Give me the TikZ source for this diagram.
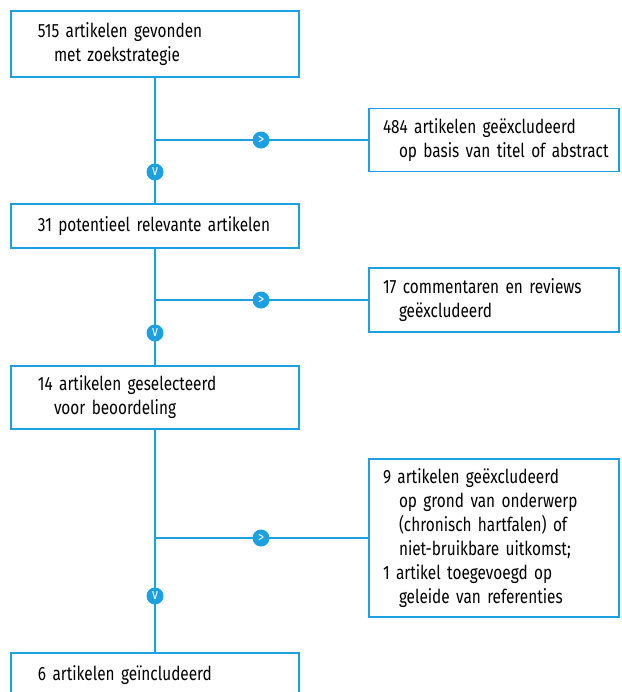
\documentclass[tikz,border=0pt]{standalone}
\usepackage{fontspec}
\setmainfont{Fira Sans}[FakeStretch=0.8]
\usetikzlibrary{positioning}
\definecolor{flowblue}{RGB}{28,160,226}
\tikzset{
  mainbox/.style={draw=flowblue, line width=0.7pt, inner xsep=13.5pt, text width=117pt, inner ysep=0pt, align=left},
  sidebox/.style={draw=flowblue, line width=0.7pt, inner xsep=7pt, text width=111pt, inner ysep=0pt, align=left},
  flowline/.style={draw=flowblue, line width=0.7pt},
  marker/.style={circle, fill=flowblue, inner sep=0pt, minimum size=8.5pt, text=white, font=\fontsize{7.5}{7.5}\selectfont}
}

\begin{document}
\begin{tikzpicture}[x=0.5pt, y=-0.5pt, font=\fontsize{9.6}{12}\selectfont]
    \clip (0,0) rectangle (622,692);

    % Main column
    \node[mainbox, minimum height=33pt] (found) at (155,44) {515 artikelen gevonden\\\hspace*{8pt}met zoekstrategie};
    \node[mainbox, minimum height=22pt] (potential) at (155,226) {\mbox{31 potentieel relevante artikelen}};
    \node[mainbox, minimum height=31.5pt] (selected) at (155,397.5) {14 artikelen geselecteerd\\\hspace*{8pt}voor beoordeling};
    \node[mainbox, minimum height=22pt] (included) at (155,675) {6 artikelen geïncludeerd};

    % Exclusion boxes
    \node[sidebox, minimum height=31.5pt] (excl1) at (494,140) {484 artikelen geëxcludeerd\\\hspace*{8pt}\mbox{op basis van titel of abstract}};
    \node[sidebox, minimum height=32pt] (excl2) at (494,300) {17 commentaren en reviews\\\hspace*{8pt}geëxcludeerd};
    \node[sidebox, minimum height=79pt] (excl3) at (494,538) {9 artikelen geëxcludeerd\\\hspace*{8pt}op grond van onderwerp\\\hspace*{8pt}(chronisch hartfalen) of\\\hspace*{8pt}niet-bruikbare uitkomst;\\1 artikel toegevoegd op\\\hspace*{8pt}geleide van referenties};

    % Branch points
    \coordinate (split1) at (155,140);
    \coordinate (split2) at (155,300);
    \coordinate (split3) at (155,538);

    % Connectors
    \draw[flowline] (found) -- (potential);
    \draw[flowline] (potential) -- (selected);
    \draw[flowline] (selected) -- (included);
    \draw[flowline] (split1) -- (excl1);
    \draw[flowline] (split2) -- (excl2);
    \draw[flowline] (split3) -- (excl3);

    % Direction markers
    \node[marker] (right1) at (261,140) {>};
    \node[marker] (right2) at (261,300) {>};
    \node[marker] (right3) at (261,538) {>};
    \node[marker] (down1) at (155,172) {v};
    \node[marker] (down2) at (155,333) {v};
    \node[marker] (down3) at (155,596) {v};
\end{tikzpicture}
\end{document}
